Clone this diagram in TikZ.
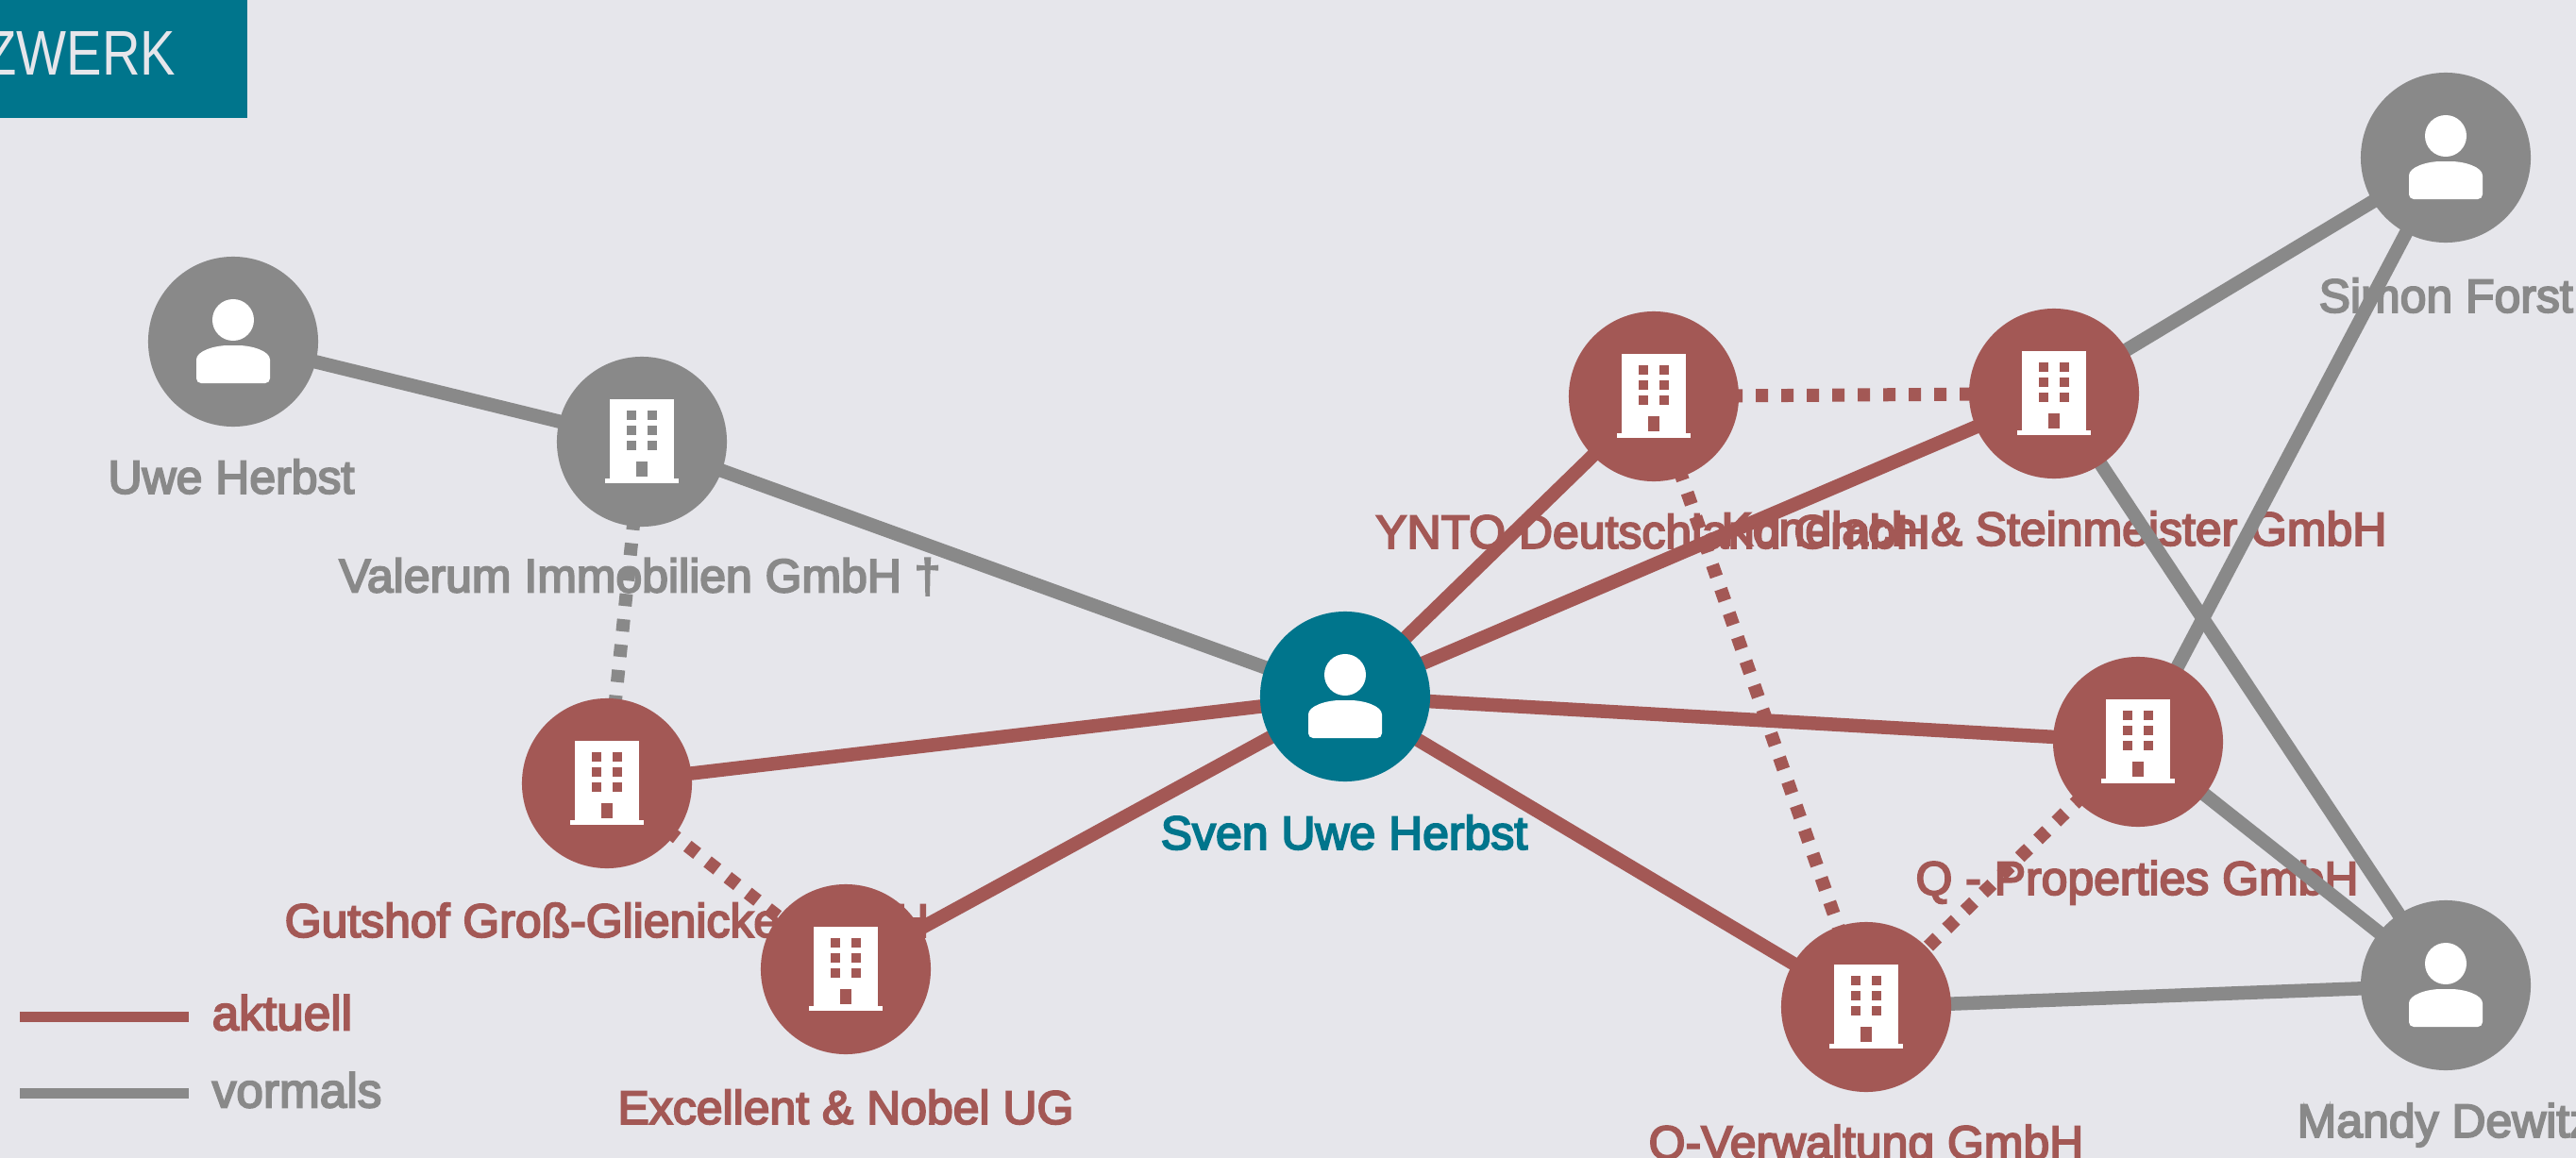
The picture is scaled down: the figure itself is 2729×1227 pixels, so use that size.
\documentclass[tikz,border=0pt]{standalone}
\usepackage{fontspec}
\setmainfont{Liberation Sans}
\usetikzlibrary{backgrounds}
\definecolor{bgc}{HTML}{E6E6EB}
\definecolor{tealc}{HTML}{00758C}
\definecolor{redc}{HTML}{A35855}
\definecolor{greyc}{HTML}{898989}
\pgfdeclarelayer{labels}
\pgfdeclarelayer{edges}
\pgfsetlayers{labels,edges,main}
\newcommand{\heavy}[1]{\special{pdf:code 2 Tr 0.55 w}#1\special{pdf:code 0 Tr 1 w}}
\tikzset{
  x=0.01cm,y=-0.01cm,
  ent/.style={circle,draw=none,fill=#1,minimum size=1.8cm,inner sep=0pt},
  lbl/.style={text=#1,font=\fontsize{14.2}{17}\selectfont,inner sep=0pt},
  sol/.style={draw=#1,line width=0.145cm},
  legline/.style={draw=#1,line width=0.11cm},
  dots/.style={draw=#1,line width=0.14cm,dash pattern=on 0.13cm off 0.14cm},
  pics/personicon/.style={code={
    \fill[white] (0,-23) circle (0.22cm);
    \fill[white,rounded corners=0.05cm] (-39,44) -- (-39,24) .. controls (-39,10) and (-20,4) .. (0,4) .. controls (20,4) and (39,10) .. (39,24) -- (39,44) -- cycle;
  }},
  pics/bldgicon/.style={code={
    \fill[white] (-34,-45) rectangle (34,39);
    \fill[white] (-39,39) rectangle (39,44);
    \foreach \yy in {-28,-12,4}{
      \fill[#1] (-16,\yy-5) rectangle (-6,\yy+5);
      \fill[#1] (6,\yy-5) rectangle (16,\yy+5);
    }
    \fill[#1] (-6,21) rectangle (6,37);
  }}
}
\begin{document}
\begin{tikzpicture}
\useasboundingbox (0,0) rectangle (2729,1227);
\clip (0,0) rectangle (2729,1227);
\begin{pgfonlayer}{labels}
\fill[bgc] (0,0) rectangle (2729,1227);
\fill[tealc] (0,0) rectangle (262,125);
\node[anchor=east,text=bgc,font=\fontsize{19}{22}\selectfont,inner sep=0pt] (title) at (187,57) {\scalebox{0.84}[1]{ZWERK}};
\node[lbl=greyc] (luwe) at (245,505) {\heavy{Uwe Herbst}};
\node[lbl=greyc] (lval) at (678,611) {\heavy{Valerum Immobilien GmbH †}};
\node[lbl=redc] (lgut) at (643,975) {\heavy{Gutshof Groß-Glienicke GmbH}};
\node[lbl=redc] (lexc) at (896,1173) {\heavy{Excellent \& Nobel UG}};
\node[lbl=tealc] (lsven) at (1424,882) {\heavy{Sven Uwe Herbst}};
\node[lbl=redc] (lynto) at (1751,563) {\heavy{YNTO Deutschland GmbH}};
\node[lbl=redc] (lkon) at (2176,560) {\heavy{Kondlach \& Steinmeister GmbH}};
\node[lbl=redc] (lqp) at (2264,935) {\heavy{Q - Properties GmbH}};
\node[lbl=redc] (lqv) at (1977,1215) {\heavy{Q-Verwaltung GmbH}};
\node[lbl=greyc,anchor=west] (lsim) at (2456,313) {\heavy{Simon Forst}};
\node[lbl=greyc,anchor=west] (lman) at (2433,1192) {\heavy{Mandy Dewitz}};
\node[lbl=redc,anchor=west,font=\fontsize{14.6}{17}\selectfont] (lakt) at (224,1073) {\heavy{aktuell}};
\node[lbl=greyc,anchor=west,font=\fontsize{14.6}{17}\selectfont] (lvor) at (224,1155) {\heavy{vormals}};
\end{pgfonlayer}

\node[ent=greyc] (uwe) at (247,362) {};
\node[ent=greyc] (val) at (680,468) {};
\node[ent=redc] (gut) at (643,830) {};
\node[ent=redc] (exc) at (896,1027) {};
\node[ent=tealc] (sven) at (1425,738) {};
\node[ent=redc] (ynto) at (1752,420) {};
\node[ent=redc] (kon) at (2176,417) {};
\node[ent=redc] (qp) at (2265,786) {};
\node[ent=redc] (qv) at (1977,1067) {};
\node[ent=greyc] (sim) at (2591,167) {};
\node[ent=greyc] (man) at (2591,1044) {};

\pic at (uwe) {personicon};
\pic at (sven) {personicon};
\pic at (sim) {personicon};
\pic at (man) {personicon};
\pic at (val) {bldgicon=greyc};
\pic at (gut) {bldgicon=redc};
\pic at (exc) {bldgicon=redc};
\pic at (ynto) {bldgicon=redc};
\pic at (kon) {bldgicon=redc};
\pic at (qp) {bldgicon=redc};
\pic at (qv) {bldgicon=redc};

\coordinate (la1) at (21,1077);
\coordinate (la2) at (200,1077);
\coordinate (lb1) at (21,1158);
\coordinate (lb2) at (200,1158);

\begin{pgfonlayer}{edges}
\path[sol=greyc] (uwe.center) -- (val.center);
\path[sol=greyc] (val.center) -- (sven.center);
\path[sol=greyc] (kon.center) -- (sim.center);
\path[sol=greyc] (kon.center) -- (man.center);
\path[sol=greyc] (qp.center) -- (sim.center);
\path[sol=greyc] (qp.center) -- (man.center);
\path[sol=greyc] (qv.center) -- (man.center);
\path[sol=redc] (sven.center) -- (ynto.center);
\path[sol=redc] (sven.center) -- (kon.center);
\path[sol=redc] (sven.center) -- (qp.center);
\path[sol=redc] (sven.center) -- (qv.center);
\path[sol=redc] (sven.center) -- (gut.center);
\path[sol=redc] (sven.center) -- (exc.center);
\path[dots=greyc] (val.center) -- (gut.center);
\path[dots=redc] (gut.center) -- (exc.center);
\path[dots=redc] (ynto.center) -- (kon.center);
\path[dots=redc] (ynto.center) -- (qv.center);
\path[dots=redc] (qp.center) -- (qv.center);
\path[legline=redc] (la1) -- (la2);
\path[legline=greyc] (lb1) -- (lb2);
\end{pgfonlayer}
\end{tikzpicture}
\end{document}
